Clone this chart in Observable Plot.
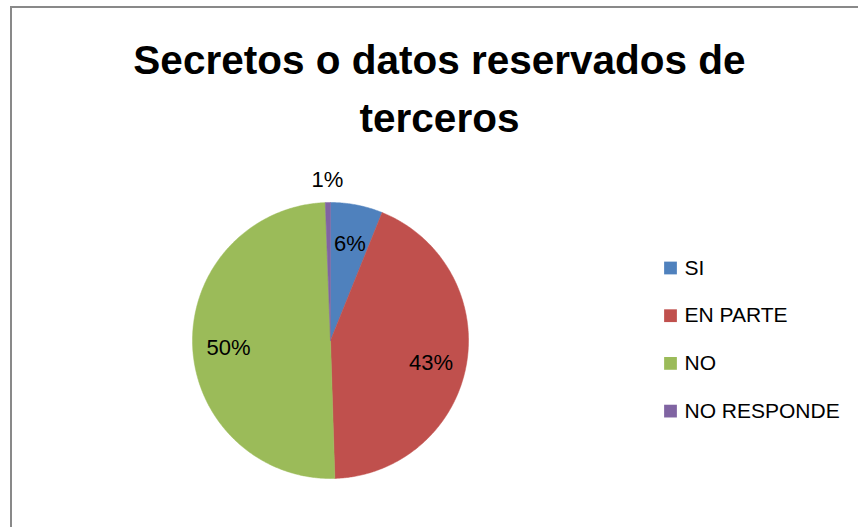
<!DOCTYPE html>
<html>
<head>
<meta charset="utf-8">
<script src="https://cdn.jsdelivr.net/npm/d3@7"></script>
<script src="https://cdn.jsdelivr.net/npm/@observablehq/plot@0.6"></script>
<style>
  html, body { margin: 0; padding: 0; background: #fff; overflow: hidden; }
  #wrap { position: relative; width: 858px; height: 527px; }
  #border { position: absolute; left: 10px; top: 6px; width: 900px; height: 600px; border: 2px solid #898989; box-sizing: border-box; }
  #chart { position: absolute; left: 0; top: 0; }
</style>
</head>
<body>
<div id="wrap"><div id="border"></div><div id="chart"></div></div>
<script>
const title = "Secretos o datos reservados de\nterceros";
const categories = ["SI", "EN PARTE", "NO", "NO RESPONDE"];
const values = [6.1, 43.4, 49.9, 0.6];
const colors = ["#4F81BD", "#C0504D", "#9BBB59", "#8064A2"];

const total = d3.sum(values);
// slice polygons (angle clockwise from 12 o'clock)
const pts = [];
const labels = [];
let acc = 0;
categories.forEach((c, i) => {
  const a0 = acc / total * 2 * Math.PI;
  acc += values[i];
  const a1 = acc / total * 2 * Math.PI;
  pts.push({key: c, x: 0, y: 0});
  const n = Math.max(2, Math.ceil((a1 - a0) / (Math.PI / 360)));
  for (let k = 0; k <= n; k++) {
    const a = a0 + (a1 - a0) * k / n;
    pts.push({key: c, x: Math.sin(a), y: Math.cos(a)});
  }
  pts.push({key: c, x: 0, y: 0});
  const am = (a0 + a1) / 2;
  const pct = values[i] / total * 100;
  const rr = pct < 3 ? 1.16 : 0.74;
  labels.push({key: c, x: rr * Math.sin(am), y: rr * Math.cos(am) - (pct < 3 ? 0 : 0.03), text: Math.round(pct) + "%"});
});

const font = "'Liberation Sans', Arial, sans-serif";
const cx = 330, cy = 340, R = 138;

const legendMarks = categories.flatMap((c, i) => [
  Plot.dot([c], {frameAnchor: "top-left", dx: 670, dy: 267.5 + 47.7 * i, fill: d => d, symbol: "square", r: 7.2, stroke: "none"}),
  Plot.text([c], {frameAnchor: "top-left", dx: 684, dy: 267.5 + 47.7 * i, text: d => d, textAnchor: "start", lineAnchor: "middle", fontSize: 21, fontFamily: font, fill: "#000"})
]);

const chart = Plot.plot({
  width: 858,
  height: 527,
  margin: 0,
  style: {background: "transparent", overflow: "visible"},
  x: {domain: [-1, 1], range: [cx - R, cx + R], axis: null},
  y: {domain: [-1, 1], range: [cy + R, cy - R], axis: null},
  color: {domain: categories, range: colors},
  marks: [
    Plot.line(pts, {x: "x", y: "y", z: "key", fill: "key", stroke: "key", strokeWidth: 0.5, curve: "linear"}),
    Plot.text(labels, {x: "x", y: "y", text: "text", fontSize: 22, fontFamily: font, fill: "#000", textAnchor: "middle", lineAnchor: "middle"}),
    Plot.text([title], {frameAnchor: "top-left", dx: 439, dy: 73, text: d => d.split("\n")[0], textAnchor: "middle", lineAnchor: "bottom", fontSize: 40.5, fontWeight: "bold", fontFamily: font, fill: "#000"}),
    Plot.text([title], {frameAnchor: "top-left", dx: 439, dy: 131, text: d => d.split("\n")[1], textAnchor: "middle", lineAnchor: "bottom", fontSize: 40.5, fontWeight: "bold", fontFamily: font, fill: "#000"}),
    ...legendMarks
  ]
});
document.getElementById("chart").appendChild(chart);
</script>
</body>
</html>
